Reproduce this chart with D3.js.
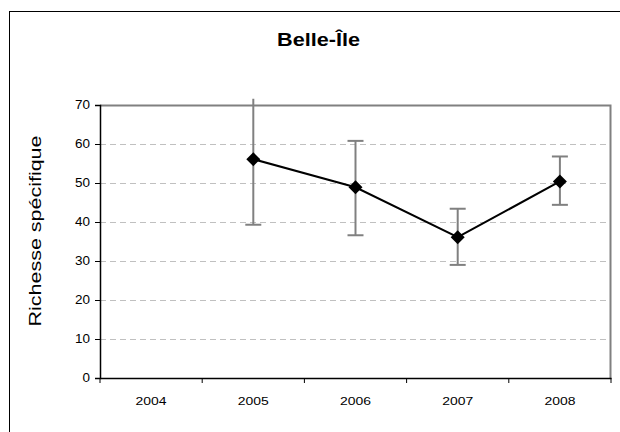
<!DOCTYPE html>
<html>
<head>
<meta charset="utf-8">
<script src="https://cdn.jsdelivr.net/npm/d3@7"></script>
<style>
  body { margin: 0; background: #fff; }
  text { font-family: "Liberation Sans", Arial, sans-serif; }
</style>
</head>
<body>
<div id="chart"></div>
<script>
// data
const years = ["2004", "2005", "2006", "2007", "2008"];
const meanVals = [null, 56.1, 48.9, 36.1, 50.4];
const upperVals = [null, 71.6, 60.8, 43.4, 56.8];
const lowerVals = [null, 39.3, 36.6, 29.0, 44.4];
const yTicks = [0, 10, 20, 30, 40, 50, 60, 70];

const W = 620, H = 432;
const margin = { top: 105, right: 9, bottom: 54, left: 100 };
const width = W - margin.left - margin.right;
const height = H - margin.top - margin.bottom;

const svg = d3.select("#chart").append("svg")
  .attr("width", W).attr("height", H);

// outer chart frame
svg.append("rect")
  .attr("x", 9.5).attr("y", 11.5)
  .attr("width", 620).attr("height", 430)
  .attr("fill", "none").attr("stroke", "#000").attr("stroke-width", 1);

svg.append("text")
  .attr("x", 318.5).attr("y", 46)
  .attr("text-anchor", "middle")
  .attr("font-size", 18).attr("font-weight", "bold")
  .attr("textLength", 83).attr("lengthAdjust", "spacingAndGlyphs")
  .text("Belle-Île");

svg.append("text")
  .attr("transform", "translate(40.5,231) rotate(-90)")
  .attr("text-anchor", "middle")
  .attr("font-size", 16)
  .attr("textLength", 191).attr("lengthAdjust", "spacingAndGlyphs")
  .text("Richesse spécifique");

const g = svg.append("g")
  .attr("transform", "translate(" + margin.left + "," + margin.top + ")");

const x = d3.scaleBand().domain(years).range([0, width]);
const y = d3.scaleLinear().domain([0, 70]).range([height, 0]);

// gridlines
g.selectAll(".grid").data(yTicks.filter(d => d > 0 && d < 70))
  .enter().append("line")
  .attr("x1", 0).attr("x2", width)
  .attr("y1", d => Math.round(y(d)) + 0.5).attr("y2", d => Math.round(y(d)) + 0.5)
  .attr("stroke", "#c0c0c0").attr("stroke-dasharray", "6,4");

// plot area border (top, right)
g.append("path")
  .attr("d", "M0," + 0.5 + "H" + (width - 0.5) + "V" + height)
  .attr("fill", "none").attr("stroke", "#808080").attr("stroke-width", 2);

const yAxis = g.append("g")
  .call(d3.axisLeft(y).tickValues(yTicks).tickSize(5).tickPadding(5));
yAxis.select(".domain").attr("stroke", "#000").attr("stroke-width", 1.5);
yAxis.selectAll("text").attr("font-size", 12).attr("fill", "#000")
  .attr("textLength", d => String(d).length * 7.5).attr("lengthAdjust", "spacingAndGlyphs")
  .style("font-family", "'Liberation Sans', Arial, sans-serif");

const xAxis = g.append("g")
  .attr("transform", "translate(0," + height + ")")
  .call(d3.axisBottom(x).tickSize(0).tickPadding(19));
xAxis.select(".domain").attr("stroke", "#000").attr("stroke-width", 1.5);
xAxis.selectAll("text").attr("font-size", 11).attr("fill", "#000")
  .attr("textLength", 31).attr("lengthAdjust", "spacingAndGlyphs")
  .style("font-family", "'Liberation Sans', Arial, sans-serif");
// category boundary ticks
const bounds = years.map(d => x(d)).concat([width]);
xAxis.selectAll(".bt").data(bounds).enter().append("line")
  .attr("x1", d => d).attr("x2", d => d)
  .attr("y1", 0).attr("y2", 5)
  .attr("stroke", "#000");

const pts = years.map((d, i) => ({ year: d, v: meanVals[i], hi: upperVals[i], lo: lowerVals[i] }))
  .filter(d => d.v != null);
const cx = d => x(d.year) + x.bandwidth() / 2;

// error bars
const eb = g.selectAll(".eb").data(pts).enter().append("g")
  .attr("stroke", "#808080").attr("stroke-width", 2);
eb.append("line")
  .attr("x1", cx).attr("x2", cx)
  .attr("y1", d => y(d.lo)).attr("y2", d => y(d.hi));
eb.append("line")
  .attr("x1", d => cx(d) - 8).attr("x2", d => cx(d) + 8)
  .attr("y1", d => y(d.lo)).attr("y2", d => y(d.lo));
eb.filter(d => d.hi <= 70).append("line")
  .attr("x1", d => cx(d) - 8).attr("x2", d => cx(d) + 8)
  .attr("y1", d => y(d.hi)).attr("y2", d => y(d.hi));

const line = d3.line().x(cx).y(d => y(d.v));
g.append("path").datum(pts)
  .attr("d", line)
  .attr("fill", "none").attr("stroke", "#000").attr("stroke-width", 2);

g.selectAll(".mk").data(pts).enter().append("path")
  .attr("transform", d => "translate(" + cx(d) + "," + y(d.v) + ")")
  .attr("d", "M0,-7L7,0L0,7L-7,0Z")
  .attr("fill", "#000");
</script>
</body>
</html>
